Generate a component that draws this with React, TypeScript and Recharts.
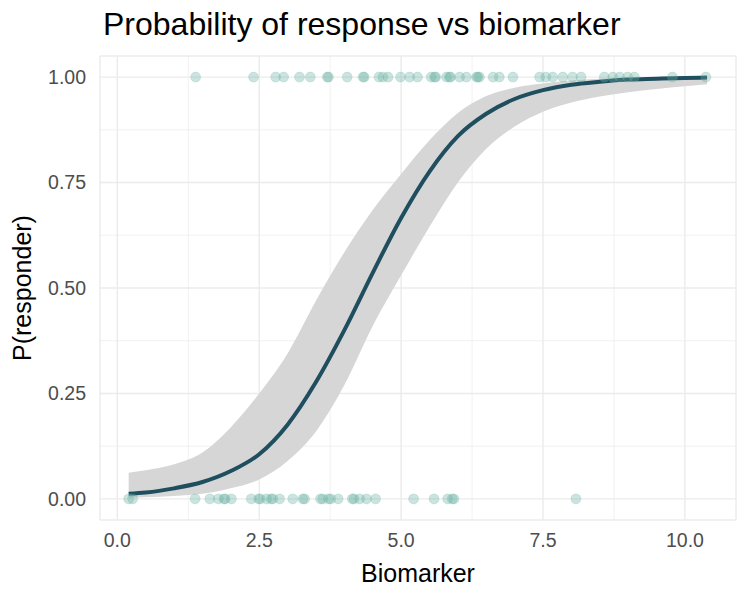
import { ComposedChart, Area, Line, Scatter, XAxis, YAxis, CartesianGrid, Label } from "recharts";

// fitted curve
const curveX = [0.2, 0.5, 1.0, 1.5, 2.0, 2.5, 3.0, 3.5, 4.0, 4.5, 5.0, 5.5, 6.0, 6.5, 7.0, 7.5, 8.0, 8.5, 9.0, 9.5, 10.0, 10.39];
const curveP = [0.012, 0.015, 0.025, 0.04, 0.066, 0.106, 0.176, 0.277, 0.4, 0.536, 0.666, 0.776, 0.86, 0.913, 0.948, 0.969, 0.982, 0.989, 0.994, 0.996, 0.998, 0.999];
const ciLow = [0.003, 0.004, 0.007, 0.012, 0.025, 0.046, 0.09, 0.16, 0.27, 0.41, 0.53, 0.645, 0.75, 0.83, 0.883, 0.918, 0.94, 0.954, 0.964, 0.972, 0.978, 0.983];
const ciHigh = [0.062, 0.068, 0.082, 0.11, 0.17, 0.25, 0.345, 0.47, 0.585, 0.685, 0.77, 0.85, 0.915, 0.955, 0.975, 0.985, 0.992, 0.996, 0.998, 0.999, 1.0, 1.0];

// observed biomarker values
const responderX = [
  1.38, 2.4, 2.79, 2.93, 3.21, 3.4, 3.7, 3.72, 4.05, 4.33, 4.35, 4.61, 4.68, 4.77, 4.99, 5.15, 5.29,
  5.53, 5.59, 5.61, 5.8, 5.85, 5.87, 6.03, 6.15, 6.33, 6.35, 6.38, 6.62, 6.73, 6.97, 7.44, 7.55,
  7.67, 7.85, 8.02, 8.17, 8.58, 8.73, 8.85, 8.99, 9.11, 9.78, 10.37,
];
const nonResponderX = [
  0.2, 0.27, 1.37, 1.63, 1.78, 1.88, 1.9, 2.01, 2.36, 2.49, 2.52, 2.63, 2.71, 2.74, 2.86, 3.09,
  3.27, 3.3, 3.58, 3.62, 3.72, 3.76, 3.89, 4.14, 4.17, 4.27, 4.39, 4.55, 5.22, 5.58, 5.82, 5.9,
  5.93, 8.08,
];

const xTicks = [0, 2.5, 5, 7.5, 10];
const yTicks = [0, 0.25, 0.5, 0.75, 1];
const xMinor = [1.25, 3.75, 6.25, 8.75];
const yMinor = [0.125, 0.375, 0.625, 0.875];

const curveData = curveX.map((x, i) => ({ x, p: curveP[i], band: [ciLow[i], ciHigh[i]] }));
const pointData = [
  ...responderX.map((x) => ({ x, y: 1 })),
  ...nonResponderX.map((x) => ({ x, y: 0 })),
];

const FONT = "'Liberation Sans', Arial, sans-serif";
const tick = { fontSize: 19.5, fill: "#4d4d4d", fontFamily: FONT };

const Dot = (props: any) => (
  <circle cx={props.cx} cy={props.cy} r={5} fill="#69b3a2" fillOpacity={0.35} stroke="#69b3a2" strokeOpacity={0.35} strokeWidth={0.6} />
);

export default function App() {
  return (
    <div style={{ position: "relative", width: 750, height: 600, background: "#fff", fontFamily: FONT }}>
      <style>{"body{margin:0}"}</style>
      <div style={{ position: "absolute", left: 103, top: 6, fontSize: 32, color: "#000", whiteSpace: "nowrap" }}>
        Probability of response vs biomarker
      </div>
      <ComposedChart width={750} height={600} margin={{ top: 56, right: 14, bottom: 0, left: 0 }}>
        <CartesianGrid stroke="#ebebeb" strokeWidth={0.7} horizontalValues={yMinor} verticalValues={xMinor} />
        <CartesianGrid stroke="#ebebeb" strokeWidth={1.4} />
        <XAxis
          dataKey="x" type="number" domain={[-0.305, 10.9]} ticks={xTicks} allowDataOverflow
          tickFormatter={(v: number) => v.toFixed(1)} axisLine={false} tickLine={false}
          tickSize={0} tickMargin={13} height={80} tick={tick}
        >
          <Label value="Biomarker" position="insideBottom" offset={18} style={{ fontSize: 25, fill: "#000", fontFamily: FONT }} />
        </XAxis>
        <YAxis
          type="number" domain={[-0.05, 1.05]} ticks={yTicks} allowDataOverflow
          tickFormatter={(v: number) => v.toFixed(2)} axisLine={false} tickLine={false}
          tickSize={0} tickMargin={14} width={100} tick={tick}
        >
          <Label value="P(responder)" angle={-90} position="insideLeft" offset={22} style={{ fontSize: 25, fill: "#000", fontFamily: FONT, textAnchor: "middle" }} />
        </YAxis>
        <Area data={curveData} dataKey="band" type="monotone" fill="#d6d6d6" fillOpacity={1} stroke="none" isAnimationActive={false} />
        <Line data={curveData} dataKey="p" type="monotone" stroke="#1f4e5f" strokeWidth={4} dot={false} isAnimationActive={false} />
        <Scatter data={pointData} dataKey="y" shape={Dot} isAnimationActive={false} />
      </ComposedChart>
    </div>
  );
}
